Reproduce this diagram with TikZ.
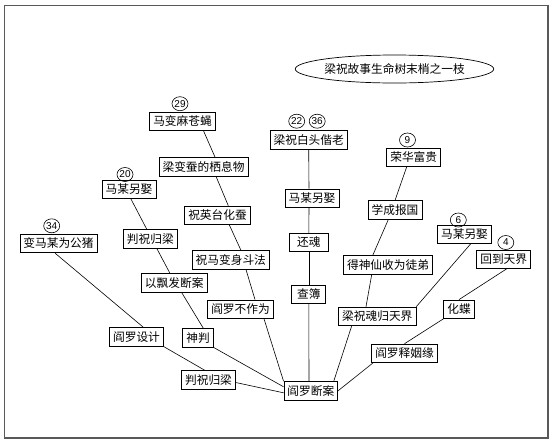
\documentclass[tikz,border=0pt]{standalone}
\usepackage{fontspec}
\newfontfamily\cjk{Noto Sans CJK SC}
\newfontfamily\numfont{Liberation Sans}
\usetikzlibrary{shapes.geometric}

\begin{document}
\begin{tikzpicture}[
  x=1pt,y=-1pt,
  box/.style={draw,fill=white,line width=0.7pt,inner xsep=3.5pt,inner ysep=0pt,minimum height=18.5pt,font=\cjk\fontsize{11.7}{13}\selectfont},
  num/.style={ellipse,draw,line width=0.6pt,inner sep=0pt,minimum width=16pt,minimum height=14pt,font=\numfont\fontsize{10}{11}\selectfont},
  ln/.style={line width=0.6pt}
]
\useasboundingbox (0,0) rectangle (553,445);
\draw[black!65,line width=1.2pt] (4.5,5.5) rectangle (548,438);

\node[ellipse,draw,line width=0.7pt,inner sep=0pt,minimum width=163pt,minimum height=28pt,font=\cjk\fontsize{11.7}{13}\selectfont] (title) at (394.5,69) {梁祝故事生命树末梢之一枝};

\node[box] (root) at (310.8,390.8) {阎罗断案};

\node[box] (pig) at (58.5,243.5) {变马某为公猪};
\node[box] (design) at (136.5,337) {阎罗设计};
\node[box] (judgeB) at (208.5,380) {判祝归梁};

\node[box] (marryA) at (129,189.5) {马某另娶};
\node[box] (judgeA) at (150.3,238.7) {判祝归梁};
\node[box] (hair) at (174.2,283) {以飘发断案};
\node[box] (god) at (198,337.8) {神判};

\node[box] (fly) at (182.5,121.2) {马变麻苍蝇};
\node[box] (silkhome) at (203.5,166.7) {梁变蚕的栖息物};
\node[box] (silk) at (217.5,215.3) {祝英台化蚕};
\node[box] (fight) at (230.8,260) {祝马变身斗法};
\node[box] (idle) at (240.5,309.2) {阎罗不作为};

\node[box] (old) at (308.7,139.7) {梁祝白头偕老};
\node[box] (marryC) at (312,198.3) {马某另娶};
\node[box,minimum width=39pt] (revive) at (308.8,242.5) {还魂};
\node[box,minimum width=34pt] (book) at (308.8,294.3) {查簿};

\node[box] (rich) at (413.7,157.2) {荣华富贵};
\node[box] (nation) at (395,210) {学成报国};
\node[box] (disciple) at (388,265) {得神仙收为徒弟};
\node[box] (heaven) at (377.3,316.3) {梁祝魂归天界};
\node[box] (marryD) at (464.5,234.2) {马某另娶};

\node[box] (back) at (503.7,259.2) {回到天界};
\node[box] (butterfly) at (459,309.2) {化蝶};
\node[box] (release) at (404.5,353.3) {阎罗释姻缘};

\node[num] (n34) at (51.7,225.8) {34};
\node[num] (n20) at (125,174.5) {20};
\node[num] (n29) at (180,103.7) {29};
\node[num] (n22) at (296.7,121.2) {22};
\node[num] (n36) at (317.2,121.2) {36};
\node[num] (n9) at (407.5,140) {9};
\node[num] (n6) at (458.3,220) {6};
\node[num] (n4) at (505.8,242.5) {4};

\draw[ln] ([xshift=-3.5pt]pig.south) -- ([xshift=7pt]design.north);
\draw[ln] (design.south east) -- ([xshift=-3.5pt]judgeB.north);
\draw[ln] ([yshift=-2.5pt]judgeB.east) -- ([yshift=-2pt]root.west);

\draw[ln] ([xshift=2pt]marryA.south) -- ([xshift=-3.6pt]judgeA.north);
\draw[ln] ([xshift=6.4pt]judgeA.south) -- ([xshift=-4.2pt]hair.north);
\draw[ln] ([xshift=7.5pt]hair.south) -- ([xshift=5.3pt]god.north);
\draw[ln] (god.south east) -- ([yshift=4pt]root.west);

\draw[ln] ([xshift=21pt]fly.south) -- ([xshift=11.5pt]silkhome.north);
\draw[ln] ([xshift=12.5pt]silkhome.south) -- ([xshift=10.8pt]silk.north);
\draw[ln] ([xshift=11.8pt]silk.south) -- ([xshift=10.2pt]fight.north);
\draw[ln] ([xshift=15.2pt]fight.south) -- ([xshift=14.5pt]idle.north);
\draw[ln] ([xshift=23.5pt]idle.south) -- (root.north west);

\draw[ln] (old.south) -- ([xshift=-3pt]marryC.north);
\draw[ln] ([xshift=-3pt]marryC.south) -- (revive.north);
\draw[ln] (revive.south) -- (book.north);
\draw[ln] (book.south) -- ([xshift=-1.8pt]root.north);

\draw[ln] ([xshift=-7pt]rich.south) -- (nation.north);
\draw[ln] ([xshift=-6.7pt]nation.south) -- ([xshift=-15.3pt]disciple.north);
\draw[ln] ([xshift=-16.3pt]disciple.south) -- ([xshift=-11.3pt]heaven.north);
\draw[ln] ([xshift=-25.6pt]heaven.south) -- ([xshift=-4.3pt]root.north east);
\draw[ln] ([xshift=6.2pt]marryD.south) -- (heaven.north east);

\draw[ln] ([xshift=3pt]back.south) -- (butterfly.north);
\draw[ln] (butterfly.south west) -- (release.north);
\draw[ln] ([xshift=1.6pt]release.south west) -- (root.east);
\end{tikzpicture}
\end{document}
